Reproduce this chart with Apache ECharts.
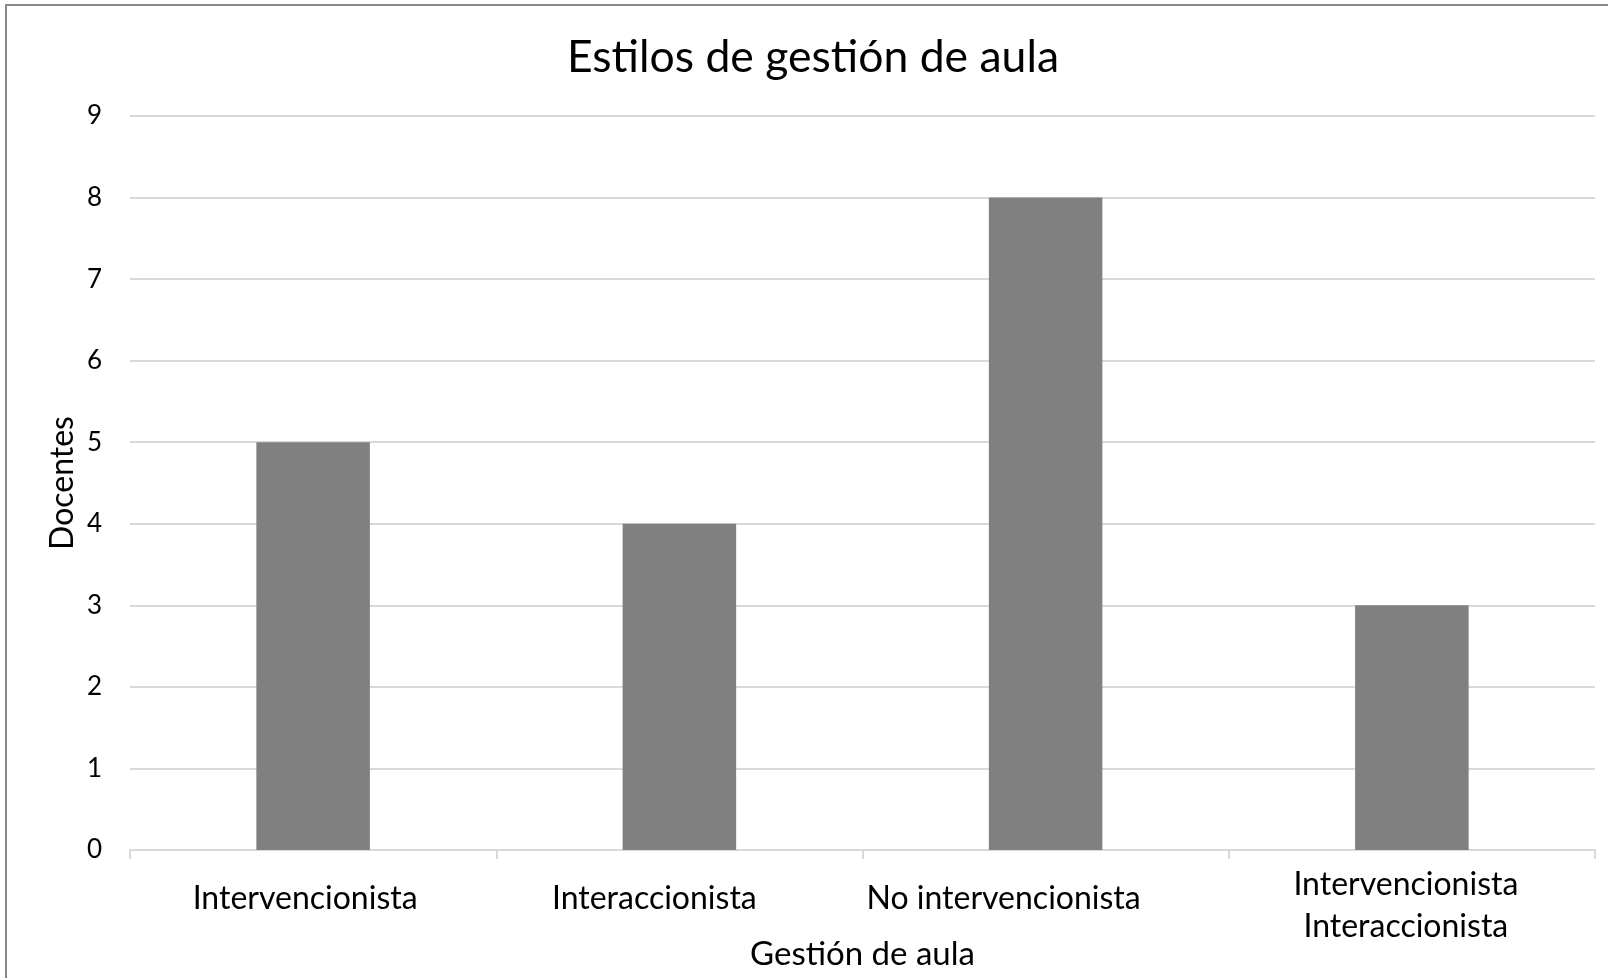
<!DOCTYPE html>
<html>
<head>
<meta charset="utf-8">
<script src="https://cdn.jsdelivr.net/npm/echarts@6/dist/echarts.min.js"></script>
<style>
html,body{margin:0;padding:0;background:#fff;}
#chart{position:absolute;left:0;top:0;width:1608px;height:978px;}
#frame{position:absolute;left:5px;top:4px;right:0;bottom:0;border-left:2px solid #8a8a8a;border-top:2px solid #8a8a8a;pointer-events:none;}
</style>
</head>
<body>
<div id="chart"></div>
<div id="frame"></div>
<script>
var titleText = 'Estilos de gestión de aula';
var categories = ['Intervencionista', 'Interaccionista', 'No intervencionista', 'Intervencionista\nInteraccionista'];
var docentes = [5, 4, 8, 3];
var yTicks = [0, 1, 2, 3, 4, 5, 6, 7, 8, 9];
var xName = 'Gestión de aula';
var yName = 'Docentes';

var FONT = 'Lato';
// leftward shift of each category label as seen in the reference (px)
var labelShift = [8, 25, 42, 6];

var rich = {};
categories.forEach(function (c, i) {
  var single = c.indexOf('\n') < 0;
  rich['c' + i] = {
    fontFamily: FONT, fontSize: 32, color: '#000',
    lineHeight: single ? 70 : 42,
    padding: [0, labelShift[i] * 2, 0, 0]
  };
});

var chart = echarts.init(document.getElementById('chart'), null, {renderer: 'canvas'});
chart.setOption({
  animation: false,
  backgroundColor: '#fff',
  title: {
    text: titleText,
    left: 813,
    textAlign: 'center',
    top: 35,
    padding: 0,
    textStyle: {fontFamily: FONT, fontSize: 44.5, fontWeight: 'normal', color: '#000'}
  },
  grid: {left: 130, right: 13, top: 116, bottom: 128, outerBoundsMode: 'none', containLabel: false},
  xAxis: {
    type: 'category',
    data: categories,
    name: xName,
    nameLocation: 'middle',
    nameGap: 88,
    nameMoveOverlap: false,
    nameTextStyle: {fontFamily: FONT, fontSize: 33, color: '#000'},
    axisLine: {lineStyle: {color: '#d9d9d9', width: 2}},
    axisTick: {show: true, length: 9, lineStyle: {color: '#d9d9d9', width: 2}},
    axisLabel: {
      interval: 0,
      margin: 14,
      verticalAlign: 'top',
      fontFamily: FONT,
      fontSize: 32,
      color: '#000',
      lineHeight: 42,
      formatter: function (v, idx) {
        return v.split('\n').map(function (line) {
          return '{c' + idx + '|' + line + '}';
        }).join('\n');
      },
      rich: rich
    }
  },
  yAxis: {
    type: 'value',
    min: yTicks[0],
    max: yTicks[yTicks.length - 1],
    interval: 1,
    name: yName,
    nameLocation: 'middle',
    nameGap: 51,
    nameMoveOverlap: false,
    nameTextStyle: {fontFamily: FONT, fontSize: 32, color: '#000'},
    axisLine: {show: false},
    axisTick: {show: false},
    axisLabel: {margin: 28, fontFamily: FONT, fontSize: 26, color: '#000'},
    splitLine: {lineStyle: {color: '#d9d9d9', width: 2}}
  },
  series: [{
    type: 'bar',
    data: docentes,
    barWidth: '31%',
    itemStyle: {color: '#808080'}
  }]
});
</script>
</body>
</html>
